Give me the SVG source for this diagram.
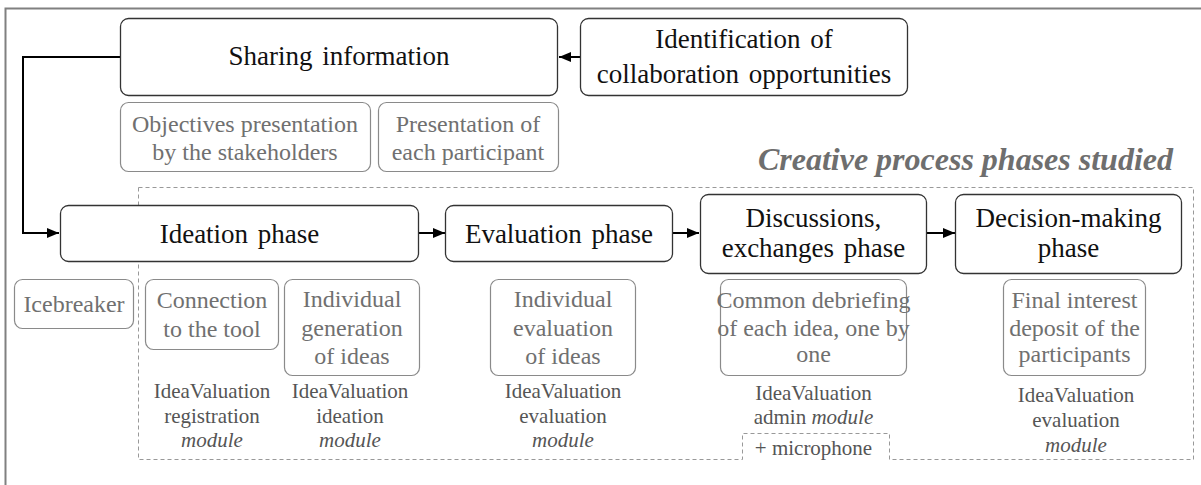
<svg xmlns="http://www.w3.org/2000/svg" width="1201" height="485" viewBox="0 0 1201 485">
<defs>
<style>
text{font-family:"Liberation Serif","Times New Roman",serif}
.main{fill:#fff;stroke:#333;stroke-width:1.3}
.sub{fill:#fff;stroke:#8a8a8a;stroke-width:1.2}
.t{font-size:27px;fill:#111;text-anchor:middle;word-spacing:3px}
.g{font-size:24px;fill:#707070;text-anchor:middle}
.m{font-size:21px;fill:#555;text-anchor:middle}
.i{font-style:italic}
.h{font-size:32px;font-weight:bold;font-style:italic;fill:#6e6e6e;text-anchor:end}
.c{fill:none;stroke:#000;stroke-width:2}
.d{fill:none;stroke:#999;stroke-width:1;stroke-dasharray:4 3}
</style>
<marker id="ah" viewBox="0 0 12 10" refX="12" refY="5" markerWidth="6" markerHeight="5" orient="auto" markerUnits="strokeWidth">
<path d="M0,0 L12,5 L0,10 Z" fill="#000"/>
</marker>
</defs>
<rect x="5.5" y="8.5" width="1200" height="490" fill="#fff" stroke="#808080" stroke-width="2"/>
<g id="studied-region">
<path class="d" d="M138.5,187.5 H1193.5 V459.5 H889.5 V433.5 H742.5 V459.5 H138.5 Z"/>
<text class="h" x="1173" y="170">Creative process phases studied</text>
</g>
<g id="connectors">
<line class="c" x1="580" y1="57" x2="559" y2="57" marker-end="url(#ah)"/>
<path class="c" d="M120,57 H23 V233 H59" marker-end="url(#ah)"/>
<line class="c" x1="419" y1="233" x2="445" y2="233" marker-end="url(#ah)"/>
<line class="c" x1="673" y1="233" x2="699" y2="233" marker-end="url(#ah)"/>
<line class="c" x1="927" y1="233" x2="955" y2="233" marker-end="url(#ah)"/>
</g>
<g id="sharing">
<rect class="main" x="120.5" y="18.5" width="437" height="77" rx="8"/>
<text class="t" x="339" y="65">Sharing information</text>
</g>
<g id="identification">
<rect class="main" x="580.5" y="18.5" width="327" height="77" rx="8"/>
<text class="t" x="744" y="48">Identification of</text>
<text class="t" x="744" y="83">collaboration opportunities</text>
</g>
<g id="objectives">
<rect class="sub" x="120.5" y="102.5" width="250" height="69" rx="8"/>
<text class="g" x="245" y="132">Objectives presentation</text>
<text class="g" x="245" y="160">by the stakeholders</text>
</g>
<g id="presentation">
<rect class="sub" x="378.5" y="102.5" width="180" height="69" rx="8"/>
<text class="g" x="468" y="132">Presentation of</text>
<text class="g" x="468" y="160">each participant</text>
</g>
<g id="ideation">
<rect class="main" x="60.5" y="205.5" width="358" height="56" rx="8"/>
<text class="t" x="239.5" y="243">Ideation phase</text>
</g>
<g id="evaluation">
<rect class="main" x="445.5" y="205.5" width="227" height="56" rx="8"/>
<text class="t" x="559" y="243">Evaluation phase</text>
</g>
<g id="discussions">
<rect class="main" x="700.5" y="194.5" width="226" height="79" rx="8"/>
<text class="t" x="813.5" y="227">Discussions,</text>
<text class="t" x="813.5" y="257">exchanges phase</text>
</g>
<g id="decision">
<rect class="main" x="955.5" y="194.5" width="226" height="79" rx="8"/>
<text class="t" x="1068.5" y="227">Decision-making</text>
<text class="t" x="1068.5" y="257">phase</text>
</g>
<g id="icebreaker">
<rect class="sub" x="14.5" y="279.5" width="119" height="49" rx="8"/>
<text class="g" x="74" y="312">Icebreaker</text>
</g>
<g id="connection">
<rect class="sub" x="145.5" y="279.5" width="133" height="70" rx="8"/>
<text class="g" x="212" y="308">Connection</text>
<text class="g" x="212" y="337">to the tool</text>
<text class="m" x="212" y="398">IdeaValuation</text>
<text class="m" x="212" y="423">registration</text>
<text class="m i" x="212" y="447">module</text>
</g>
<g id="generation">
<rect class="sub" x="284.5" y="279.5" width="135" height="96" rx="8"/>
<text class="g" x="352" y="307">Individual</text>
<text class="g" x="352" y="336">generation</text>
<text class="g" x="352" y="364">of ideas</text>
<text class="m" x="350" y="398">IdeaValuation</text>
<text class="m" x="350" y="423">ideation</text>
<text class="m i" x="350" y="447">module</text>
</g>
<g id="individual-evaluation">
<rect class="sub" x="490.5" y="279.5" width="145" height="96" rx="8"/>
<text class="g" x="563" y="307">Individual</text>
<text class="g" x="563" y="336">evaluation</text>
<text class="g" x="563" y="364">of ideas</text>
<text class="m" x="563" y="398">IdeaValuation</text>
<text class="m" x="563" y="423">evaluation</text>
<text class="m i" x="563" y="447">module</text>
</g>
<g id="debriefing">
<rect class="sub" x="720.5" y="279.5" width="186" height="96" rx="8"/>
<text class="g" x="813.5" y="308">Common debriefing</text>
<text class="g" x="813.5" y="336">of each idea, one by</text>
<text class="g" x="813.5" y="362">one</text>
<text class="m" x="813.5" y="400">IdeaValuation</text>
<text class="m" x="813.5" y="424">admin <tspan class="i">module</tspan></text>
<text class="m" x="813.5" y="455">+ microphone</text>
</g>
<g id="final-interest">
<rect class="sub" x="1003.5" y="279.5" width="142" height="96" rx="8"/>
<text class="g" x="1074.5" y="308">Final interest</text>
<text class="g" x="1074.5" y="336">deposit of the</text>
<text class="g" x="1074.5" y="362">participants</text>
<text class="m" x="1076" y="402">IdeaValuation</text>
<text class="m" x="1076" y="427">evaluation</text>
<text class="m i" x="1076" y="452">module</text>
</g>
</svg>
